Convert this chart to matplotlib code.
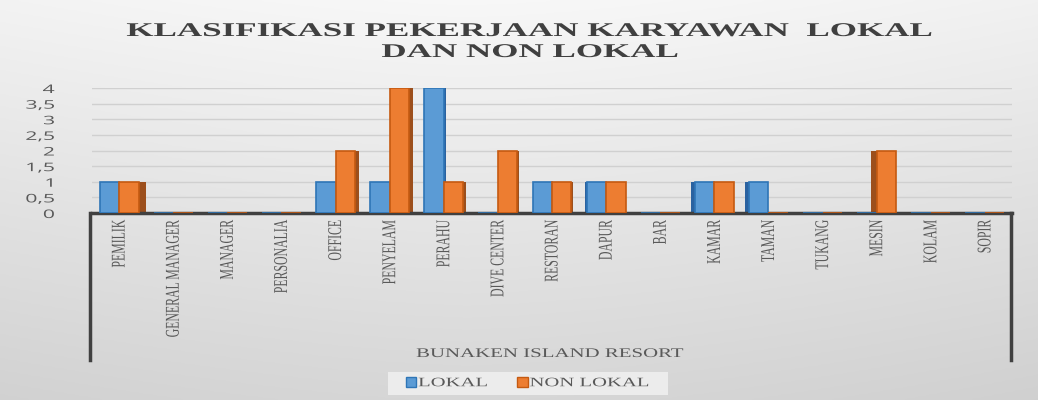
import numpy as np
import matplotlib
matplotlib.use("Agg")
import matplotlib.pyplot as plt
from matplotlib.patches import Patch, Rectangle
from matplotlib.lines import Line2D
from matplotlib.ticker import FuncFormatter
from matplotlib.transforms import Affine2D
from matplotlib.patheffects import AbstractPathEffect

categories = ["PEMILIK", "GENERAL MANAGER", "MANAGER", "PERSONALIA", "OFFICE",
              "PENYELAM", "PERAHU", "DIVE CENTER", "RESTORAN", "DAPUR", "BAR",
              "KAMAR", "TAMAN", "TUKANG", "MESIN", "KOLAM", "SOPIR"]
lokal = [1, 0, 0, 0, 1, 1, 4, 0, 1, 1, 0, 1, 1, 0, 0, 0, 0]
non_lokal = [1, 0, 0, 0, 2, 4, 1, 2, 1, 1, 0, 1, 0, 0, 2, 0, 0]
yticks = [0, 0.5, 1, 1.5, 2, 2.5, 3, 3.5, 4]


class StretchX(AbstractPathEffect):
    """Widen drawn text horizontally (the source image is stretched)."""

    def __init__(self, sx, anchor="center"):
        super().__init__()
        self.sx = sx
        self.anchor = anchor

    def draw_path(self, renderer, gc, tpath, affine, rgbFace=None):
        ext = tpath.get_extents(affine)
        if self.anchor == "right":
            cx = ext.x1
        elif self.anchor == "left":
            cx = ext.x0
        else:
            cx = (ext.x0 + ext.x1) / 2
        t = affine + Affine2D().translate(-cx, 0).scale(self.sx, 1).translate(cx, 0)
        renderer.draw_path(gc, tpath, t, rgbFace)


fig = plt.figure(figsize=(10.38, 4.0), dpi=100)

# background gradient
bg = fig.add_axes([0, 0, 1, 1], zorder=-10)
yy, xx = np.mgrid[0:1:200j, 0:1:500j]
shade = 0.97 - 0.13 * yy - 0.06 * np.abs(xx - 0.45) ** 1.5
bg.imshow(np.dstack([shade] * 3), extent=[0, 1, 0, 1], aspect="auto", origin="upper")
bg.set_axis_off()

ax = fig.add_axes([92 / 1038, 1 - 213 / 400, 920 / 1038, 125 / 400])
ax.patch.set_alpha(0)

x = np.arange(len(categories))
w = 0.36
blue, blue_dark = "#5B9BD5", "#2E75B6"
orange, orange_dark = "#ED7D31", "#C55A11"
ax.bar(x - w / 2, lokal, w, color=blue, edgecolor=blue_dark, linewidth=1.2, zorder=3)
ax.bar(x + w / 2, non_lokal, w, color=orange, edgecolor=orange_dark, linewidth=1.2, zorder=3)

# darker side faces (3D look), hidden behind the neighbouring bar where it is taller
mid = (len(categories) - 1) / 2
side = 0.02 + 0.12 * np.abs(x - mid) / mid
sign = np.where(x <= mid, 1, -1)
ax.bar(x - w / 2 + sign * (w + side) / 2, lokal, side, color="#2a62a0", linewidth=0, zorder=2)
ax.bar(x + w / 2 + sign * (w + side) / 2, non_lokal, side, color="#9c4f1c", linewidth=0, zorder=2)

ax.set_xlim(-0.5, len(categories) - 0.5)
ax.set_ylim(0, 4)
ax.set_yticks(yticks)
ax.yaxis.set_major_formatter(FuncFormatter(lambda v, p: ("%g" % v).replace(".", ",")))
ax.grid(axis="y", color="#d0d0d0", linewidth=1, zorder=0)
ax.tick_params(axis="y", length=0, pad=27, labelsize=8.5, labelcolor="#595959")
ax.set_xticks(x)
ax.set_xticklabels(categories, rotation=90, family="Liberation Serif", fontsize=8.5,
                   color="#595959", va="top")
ax.tick_params(axis="x", length=0, pad=5)
for s in ["top", "right", "left"]:
    ax.spines[s].set_visible(False)
ax.spines["bottom"].set_color("#404040")
ax.spines["bottom"].set_linewidth(2.5)
for lbl in ax.get_yticklabels():
    lbl.set_family("Open Sans")
    lbl.set_path_effects([StretchX(1.8, "right")])
for lbl in ax.get_xticklabels():
    lbl.set_path_effects([StretchX(1.65)])

# vertical frame lines under the axis
for xf in [90 / 1038, 1011 / 1038]:
    fig.add_artist(Line2D([xf, xf], [1 - 213 / 400, 1 - 360 / 400], color="#404040", linewidth=2.5))

title_fx = [StretchX(1.8)]
fig.text(0.511, 1 - 36 / 400, "KLASIFIKASI PEKERJAAN KARYAWAN  LOKAL", ha="center", va="baseline",
         family="Liberation Serif", fontweight="bold", fontsize=14, color="#404040",
         path_effects=title_fx)
fig.text(0.511, 1 - 57 / 400, "DAN NON LOKAL", ha="center", va="baseline",
         family="Liberation Serif", fontweight="bold", fontsize=14, color="#404040",
         path_effects=title_fx)
fig.text(0.530, 1 - 354 / 400, "BUNAKEN ISLAND RESORT", ha="center", va="center",
         family="Liberation Serif", fontsize=9.5, color="#595959",
         path_effects=[StretchX(1.58)])

# legend: box drawn separately since the widened text runs past the default frame
fig.add_artist(Rectangle((388 / 1038, 1 - 395 / 400), 280 / 1038, 23 / 400,
                         transform=fig.transFigure, facecolor="#ececec", edgecolor="none"))
handles = [Patch(facecolor=blue, edgecolor=blue_dark, label="LOKAL"),
           Patch(facecolor=orange, edgecolor=orange_dark, label="NON LOKAL")]
leg = fig.legend(handles=handles, loc="center left", bbox_to_anchor=(406 / 1038, 1 - 383 / 400),
                 ncol=2, frameon=False, handlelength=0.8, handleheight=0.8,
                 handletextpad=0.15, columnspacing=4.3, borderpad=0.0, borderaxespad=0.0,
                 prop={"family": "Liberation Serif", "size": 9.3})
for t in leg.get_texts():
    t.set_color("#595959")
    t.set_path_effects([StretchX(1.6, "left")])

fig.savefig("out.png", dpi=100)
